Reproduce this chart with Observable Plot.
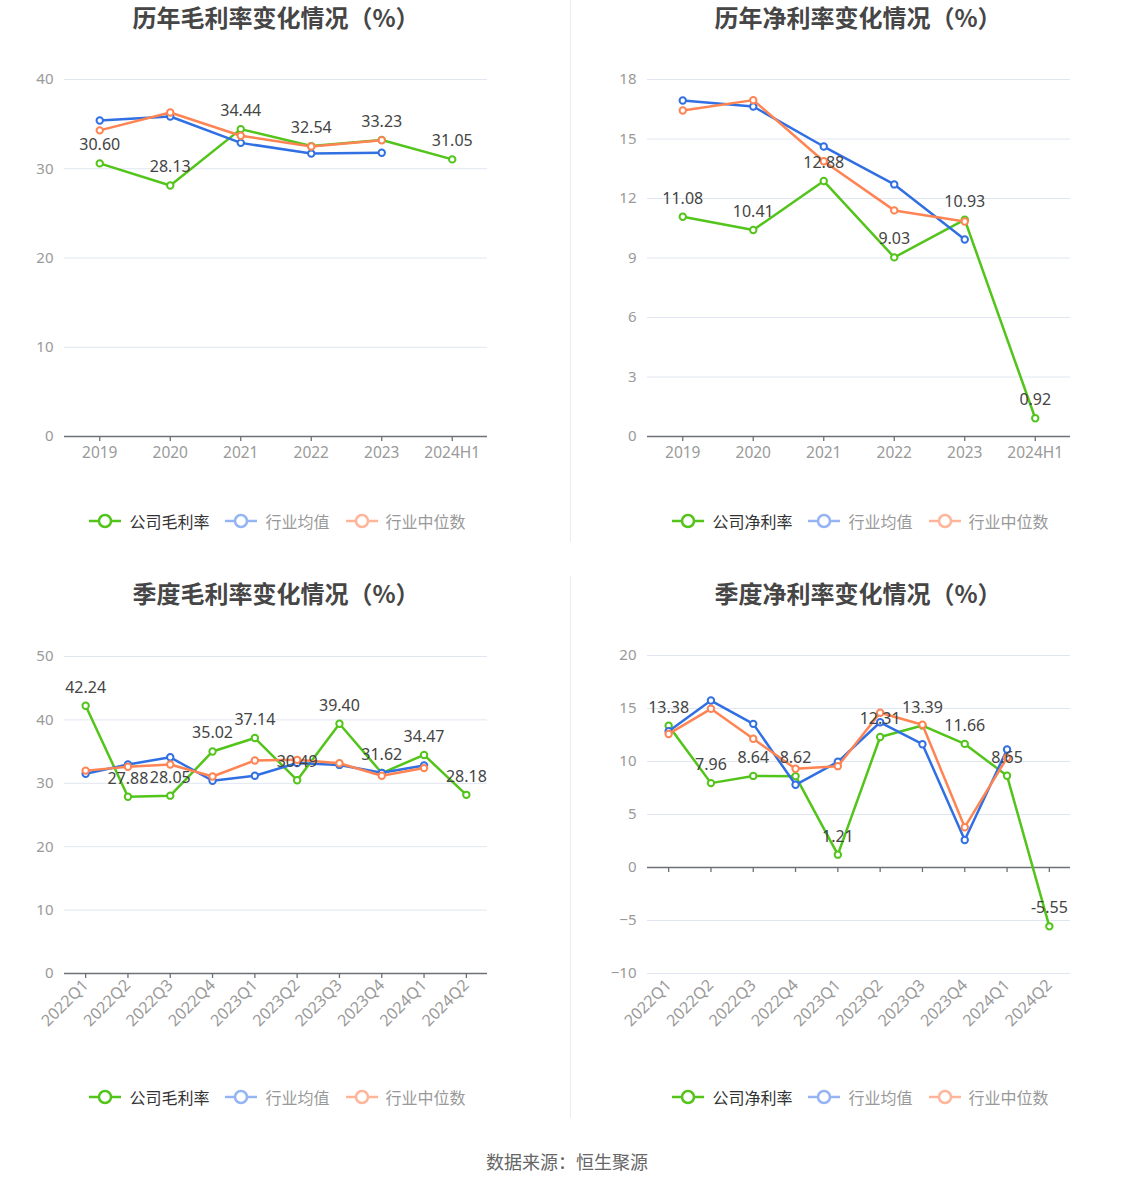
<!DOCTYPE html>
<html>
<head>
<meta charset="utf-8">
<script src="https://cdn.jsdelivr.net/npm/d3@7"></script>
<script src="https://cdn.jsdelivr.net/npm/@observablehq/plot@0.6"></script>
<style>
  html, body { margin: 0; padding: 0; background: #fff; }
  body { font-family: "Noto Sans CJK SC", "Noto Sans", sans-serif; }
  #root { position: relative; width: 1134px; height: 1188px; overflow: hidden; }
  .title { position: absolute; width: 540px; text-align: center; font-size: 24px; font-weight: bold; color: #464646; line-height: 32px; }
  .plot { position: absolute; }
  .legend { position: absolute; width: 560px; display: flex; justify-content: center; align-items: center; gap: 15px; font-size: 16px; line-height: 20px; }
  .legend .item { display: flex; align-items: center; gap: 7px; }
  .sep { position: absolute; width: 1px; background: #ececec; }
  .footer { position: absolute; width: 1134px; top: 1148px; text-align: center; font-size: 18px; color: #666; line-height: 26px; }
</style>
</head>
<body>
<div id="root"></div>
<script>
// ---------- data ----------
const yearCats = ["2019", "2020", "2021", "2022", "2023", "2024H1"];
const grossCompany = [30.60, 28.13, 34.44, 32.54, 33.23, 31.05];
const grossAvg = [35.4, 35.85, 32.9, 31.7, 31.8, null];
const grossMedian = [34.3, 36.3, 33.7, 32.5, 33.2, null];
const netCompany = [11.08, 10.41, 12.88, 9.03, 10.93, 0.92];
const netAvg = [16.94, 16.64, 14.62, 12.71, 9.93, null];
const netMedian = [16.44, 16.96, 13.88, 11.40, 10.84, null];

const quarterCats = ["2022Q1", "2022Q2", "2022Q3", "2022Q4", "2023Q1", "2023Q2", "2023Q3", "2023Q4", "2024Q1", "2024Q2"];
const qGrossCompany = [42.24, 27.88, 28.05, 35.02, 37.14, 30.49, 39.40, 31.62, 34.47, 28.18];
const qGrossAvg = [31.5, 32.97, 34.1, 30.4, 31.2, 33.2, 32.9, 31.65, 32.8, null];
const qGrossMedian = [32.0, 32.6, 32.97, 31.07, 33.6, 33.7, 33.17, 31.2, 32.4, null];
const qNetCompany = [13.38, 7.96, 8.64, 8.62, 1.21, 12.31, 13.39, 11.66, 8.65, -5.55];
const qNetAvg = [12.86, 15.75, 13.55, 7.8, 9.97, 13.7, 11.63, 2.6, 11.13, null];
const qNetMedian = [12.6, 14.97, 12.14, 9.31, 9.56, 14.6, 13.46, 3.8, 10.35, null];

const ticksGross = [0, 10, 20, 30, 40];
const ticksNet = [0, 3, 6, 9, 12, 15, 18];
const ticksQGross = [0, 10, 20, 30, 40, 50];
const ticksQNet = [-10, -5, 0, 5, 10, 15, 20];

const titles = ["历年毛利率变化情况（%）", "历年净利率变化情况（%）", "季度毛利率变化情况（%）", "季度净利率变化情况（%）"];
const legendGross = ["公司毛利率", "行业均值", "行业中位数"];
const legendNet = ["公司净利率", "行业均值", "行业中位数"];
const footerText = "数据来源：恒生聚源";

// ---------- style ----------
const GREEN = "#52c41a", BLUE = "#3170e2", ORANGE = "#ff8453";
const LEG_COLORS = ["#52c41a", "#94b4f3", "#ffb59a"];
const LEG_TEXT = ["#333", "#999", "#999"];
const root = document.getElementById("root");

function makeChart({cats, company, avg, median, ticks, rotate, left, top, marginTop, plotH, marginBottom}) {
  const W = 567;
  const domain = [ticks[0], ticks[ticks.length - 1]];
  const rows = (vals) => cats.map((c, i) => ({c, v: vals[i]})).filter(d => d.v != null);
  const tickLen = (domain[1] - domain[0]) * 5 / plotH;
  const seriesMarks = [];
  for (const [vals, color] of [[company, GREEN], [avg, BLUE], [median, ORANGE]]) {
    seriesMarks.push(Plot.line(rows(vals), {x: "c", y: "v", stroke: color, strokeWidth: 2.5}));
    seriesMarks.push(Plot.dot(rows(vals), {x: "c", y: "v", r: 3.2, stroke: color, strokeWidth: 2, fill: "#fff"}));
  }
  const svg = Plot.plot({
    width: W,
    height: marginTop + plotH + marginBottom,
    marginTop, marginBottom,
    marginLeft: 64, marginRight: 80,
    style: {fontFamily: "'Noto Sans', 'Noto Sans CJK SC', sans-serif", background: "transparent"},
    x: {type: "point", domain: cats, padding: 0.5, round: false},
    y: {domain},
    marks: [
      Plot.gridY(ticks, {stroke: "#e0e6f1", strokeOpacity: 1, strokeWidth: 1}),
      Plot.axisY(ticks, {tickSize: 0, tickPadding: 11, color: "#9a9a9a", fontSize: 15, label: null}),
      Plot.axisX(cats, rotate
        ? {tickSize: 0, tickPadding: 9, tickRotate: -45, color: "#9a9a9a", fontSize: 16, label: null}
        : {tickSize: 0, tickPadding: 10, color: "#9a9a9a", fontSize: 15.5, label: null}),
      Plot.ruleY([0], {stroke: "#6e7079", strokeWidth: 1.3}),
      Plot.ruleX(cats, {x: d => d, y1: 0, y2: -tickLen, stroke: "#6e7079", strokeWidth: 1.3}),
      ...seriesMarks,
      Plot.text(rows(company), {x: "c", y: "v", text: d => d.v.toFixed(2), dy: -13, lineAnchor: "bottom", fill: "#444", fontSize: 16})
    ]
  });
  svg.classList.add("plot");
  svg.style.left = left + "px";
  svg.style.top = top + "px";
  root.appendChild(svg);
}

function addTitle(text, left, top) {
  const d = document.createElement("div");
  d.className = "title";
  d.textContent = text;
  d.style.left = left + "px";
  d.style.top = top + "px";
  root.appendChild(d);
}

function addLegend(labels, left, top) {
  const d = document.createElement("div");
  d.className = "legend";
  d.style.left = left + "px";
  d.style.top = top + "px";
  labels.forEach((lab, i) => {
    const it = document.createElement("div");
    it.className = "item";
    it.innerHTML = `<svg width="34" height="16"><line x1="1" y1="8" x2="33" y2="8" stroke="${LEG_COLORS[i]}" stroke-width="2.5"/><circle cx="17" cy="8" r="6" fill="#fff" stroke="${LEG_COLORS[i]}" stroke-width="2.5"/></svg><span style="color:${LEG_TEXT[i]}">${lab}</span>`;
    d.appendChild(it);
  });
  root.appendChild(d);
}

// separators
for (const [t, h] of [[0, 542], [576, 542]]) {
  const s = document.createElement("div");
  s.className = "sep"; s.style.left = "570px"; s.style.top = t + "px"; s.style.height = h + "px";
  root.appendChild(s);
}

addTitle(titles[0], 6, 1);
addTitle(titles[1], 588, 1);
addTitle(titles[2], 6, 577);
addTitle(titles[3], 588, 577);

makeChart({cats: yearCats, company: grossCompany, avg: grossAvg, median: grossMedian, ticks: ticksGross, rotate: false, left: 0, top: 50, marginTop: 29, plotH: 357, marginBottom: 40});
makeChart({cats: yearCats, company: netCompany, avg: netAvg, median: netMedian, ticks: ticksNet, rotate: false, left: 583, top: 50, marginTop: 29, plotH: 357, marginBottom: 40});
makeChart({cats: quarterCats, company: qGrossCompany, avg: qGrossAvg, median: qGrossMedian, ticks: ticksQGross, rotate: true, left: 0, top: 626, marginTop: 30, plotH: 317, marginBottom: 80});
makeChart({cats: quarterCats, company: qNetCompany, avg: qNetAvg, median: qNetMedian, ticks: ticksQNet, rotate: true, left: 583, top: 626, marginTop: 29, plotH: 318, marginBottom: 80});

addLegend(legendGross, -3, 511);
addLegend(legendNet, 580, 511);
addLegend(legendGross, -3, 1087);
addLegend(legendNet, 580, 1087);

const f = document.createElement("div");
f.className = "footer";
f.textContent = footerText;
root.appendChild(f);
</script>
</body>
</html>
